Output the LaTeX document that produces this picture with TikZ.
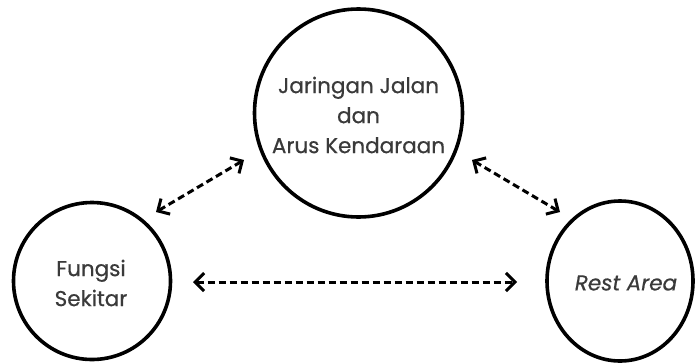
\documentclass[tikz,border=0pt]{standalone}
\usepackage{fontspec}
\setmainfont{Poppins}[FakeBold=0.6]
\usetikzlibrary{arrows.meta}
\definecolor{txt}{HTML}{3A3A3A}
\tikzset{
  circ/.style={draw=black, line width=3.6pt, circle, inner sep=0pt},
  lbl/.style={text=txt, font=\fontsize{21.5}{30}\selectfont, align=center},
  darrow/.style={line width=3pt, dash pattern=on 7pt off 4pt,
     {Straight Barb[length=9pt,width=18pt,line width=3pt]}-{Straight Barb[length=9pt,width=18pt,line width=3pt]}}
}
\begin{document}
\begin{tikzpicture}[x=1pt,y=-1pt]
\useasboundingbox (0,0) rectangle (696,362);
\node[circ, minimum size=208pt] (top) at (358.5,113) {};
\node[circ, minimum size=157pt] (left) at (92,281) {};
\draw[line width=3.6pt] (620,281) ellipse [x radius=73, y radius=80];
\coordinate (right) at (620,281);
\node[lbl] (ttop) at (358.5,115) {Jaringan Jalan\\dan\\Arus Kendaraan};
\node[lbl] (tleft) at (91,283) {Fungsi\\Sekitar};
\node[lbl, font=\fontsize{21.5}{30}\selectfont\itshape] (tright) at (626,283) {Rest Area};
\coordinate (a1) at (156,212);
\coordinate (a2) at (244,160);
\coordinate (b1) at (472,160);
\coordinate (b2) at (560,212);
\coordinate (c1) at (193,282);
\coordinate (c2) at (517,282);
\draw[darrow] (a1) -- (a2);
\draw[darrow] (b1) -- (b2);
\draw[darrow] (c1) -- (c2);
\end{tikzpicture}
\end{document}
